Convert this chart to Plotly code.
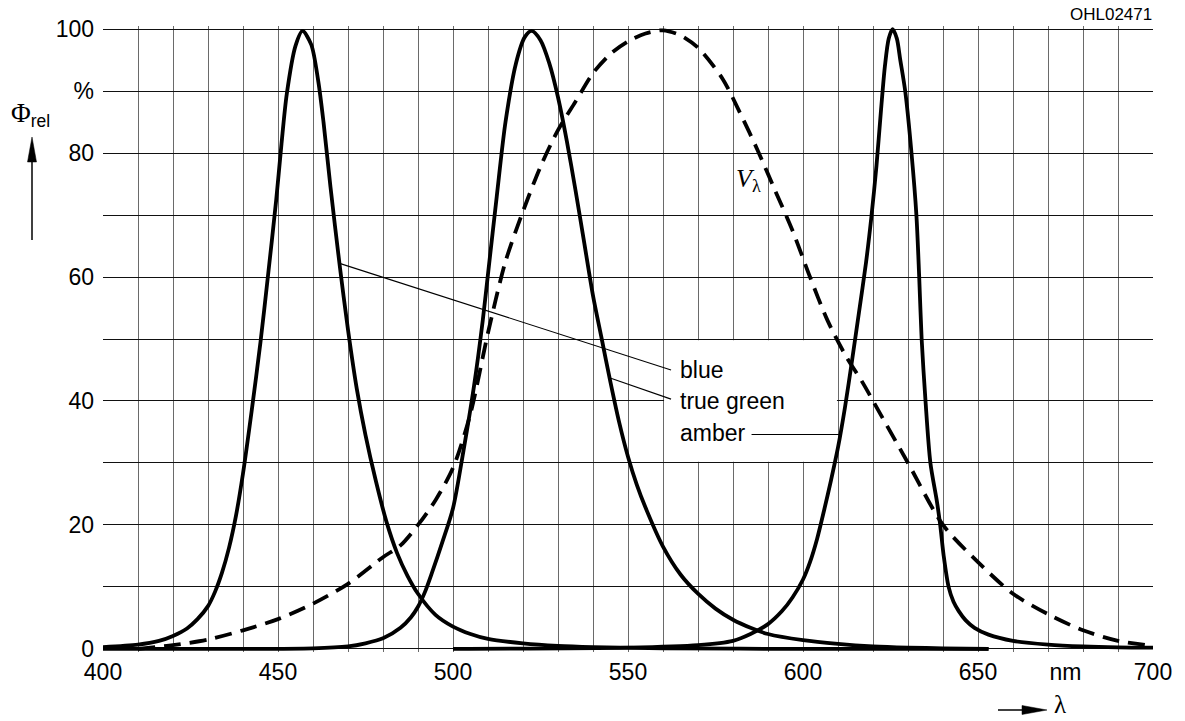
import plotly.graph_objects as go

# ---------------- data ----------------
blue_nm = [400, 410, 416, 420, 424, 427, 430, 432, 434, 436, 438, 440, 442.5, 445, 447, 449.5,
           451, 452.5, 455, 457, 459.5, 461.5, 463, 465, 467.6, 470, 472.5, 475, 478, 481, 484,
           487, 490, 495, 500, 505, 510, 520, 530, 540, 560, 600, 653]
blue_val = [0.3, 0.7, 1.3, 2.1, 3.3, 4.8, 6.9, 9.2, 12.3, 16.3, 21.5, 28.3, 38.5, 49.5, 59.5, 72.5,
            81.5, 89.5, 97.3, 99.7, 97.5, 91.6, 85, 74.5, 62, 51.5, 42, 34.5, 27, 20.5, 15.5,
            11.8, 8.9, 5.5, 3.6, 2.4, 1.6, 0.9, 0.5, 0.3, 0.1, 0, 0]

green_nm = [400, 460, 470, 475, 480, 485, 488, 490, 492, 494, 497, 500, 503, 506, 508.5, 510,
            512.5, 515, 518, 520.5, 522.5, 525, 527.5, 530, 532.5, 535, 537.5, 540, 542.5, 545,
            547.5, 550, 552.5, 555, 560, 565, 570, 575, 580, 585, 590, 600, 610, 620, 630, 640,
            653]
green_val = [0, 0.1, 0.4, 0.9, 1.7, 3.4, 5.1, 6.8, 9.2, 12.3, 17.3, 22.7, 32, 42.4, 53, 60.5,
             73, 85, 94.5, 98.7, 99.7, 98.2, 94.5, 89, 82, 74, 65.5, 57, 50, 43,
             36.5, 31, 26.5, 22.8, 16.5, 12, 8.9, 6.5, 4.7, 3.4, 2.4, 1.4, 0.8, 0.4, 0.2, 0.1,
             0]

amber_nm = [500, 550, 570, 580, 585, 590, 594, 597, 600, 602, 604, 606, 608, 610, 612, 614,
            616, 618, 619.5, 621, 622.3, 623.4, 624.5, 625.6, 626.8, 627.8, 629.2,
            631, 632.4, 633.2, 633.9, 635, 636.4, 638.2, 639.2, 640.2, 641.6, 643, 644.5, 646.5,
            649, 653, 660, 670, 680, 690, 700]
amber_val = [0, 0.2, 0.6, 1.3, 2.4, 4, 6.1, 8.3, 11.2, 14, 17.7, 22.3, 27.2, 32.5, 39, 46.5,
             54.3, 62.3, 69.5, 78, 87, 94, 98.5, 100, 98.5, 95, 90,
             80, 70, 60, 50, 40, 30, 24, 20, 15, 10, 7.6, 6.1, 4.6,
             3.4, 2.3, 1.3, 0.7, 0.4, 0.25, 0.2]

vlam_nm = [410, 420, 430, 440, 450, 460, 470, 480, 485, 490, 495, 500, 505, 510, 515, 520,
           525, 530, 535, 540, 545, 550, 555, 560, 565, 570, 577, 582, 587, 592, 597, 602,
           607, 612, 617, 622, 630, 640, 650, 660, 670, 680, 690, 700]
vlam_val = [0, 0.6, 1.5, 3, 4.8, 7.3, 10.5, 14.8, 16.7, 20, 24, 29.2, 38, 51, 62.5, 70.6,
            77.8, 83.7, 88.3, 92.9, 96, 98, 99.3, 99.8, 99, 97, 92, 86.5, 80.5, 74, 67.5, 60,
            53, 47.5, 43, 38, 30, 20, 14, 8.9, 5.6, 3, 1.3, 0.5]

grid_x = list(range(400, 701, 10))
grid_y = list(range(0, 101, 10))
x_tick_vals = [400, 450, 500, 550, 600, 650, 675, 700]
x_tick_text = ["400", "450", "500", "550", "600", "650", "nm", "700"]
y_tick_vals = [0, 20, 40, 60, 80, 90, 100]
y_tick_text = ["0", "20", "40", "60", "80", "%", "100"]

series_labels = ["blue", "true green", "amber"]
label_y = [45.0, 40.0, 34.8]
label_x = 564.3

# leader lines: (x0, y0, x1, y1) in data units
leaders = [(467.6, 62.2, 562.3, 45.0),
           (544.9, 43.7, 562.3, 40.3),
           (585.3, 34.6, 610.8, 34.6)]

FONT = "Liberation Sans, Arial, sans-serif"
SERIF = "Liberation Serif, Times New Roman, serif"

fig = go.Figure()
solid = dict(color="black", width=3.8, shape="spline", smoothing=0.8)
for nm, val, nme in [(blue_nm, blue_val, "blue"), (green_nm, green_val, "true green"),
                     (amber_nm, amber_val, "amber")]:
    fig.add_trace(go.Scatter(x=nm, y=val, mode="lines", line=solid, name=nme,
                             hoverinfo="skip"))
fig.add_trace(go.Scatter(x=vlam_nm, y=vlam_val, mode="lines", name="V_lambda",
                         line=dict(color="black", width=3.8, dash="17px,9px",
                                   shape="spline", smoothing=0.8), hoverinfo="skip"))

# plot area geometry (pixels)
L, R, T, B = 103, 32, 26, 69
W = 1185 - L - R
H = 721 - T - B
YMIN, YMAX = -0.5, 100.5
XMIN, XMAX = 400, 700

# invisible carrier trace for the labelled overlay axes
fig.add_trace(go.Scatter(x=[XMIN, XMAX], y=[YMIN, YMAX], xaxis="x2", yaxis="y2",
                         mode="markers", marker=dict(opacity=0, size=1),
                         hoverinfo="skip", showlegend=False))


def px(x):
    return (x - L) / W


def py(y):
    return (721 - B - y) / H


# white box behind labels (covers grid)
fig.add_shape(type="rect", x0=560.3, x1=609.7, y0=30.2, y1=49.8, xref="x", yref="y",
              fillcolor="white", line=dict(width=0), layer="between")
for x0, y0, x1, y1 in leaders:
    fig.add_shape(type="line", x0=x0, y0=y0, x1=x1, y1=y1, xref="x", yref="y",
                  line=dict(color="black", width=1.1), layer="above")
for t, yv in zip(series_labels, label_y):
    fig.add_annotation(x=label_x, y=yv, xref="x", yref="y", text=t, showarrow=False,
                       xanchor="left", yanchor="middle",
                       font=dict(family=FONT, size=23, color="black"))

# V lambda label
fig.add_annotation(x=584.3, y=75.6, xref="x", yref="y", showarrow=False,
                   text="<i>V</i><sub>λ</sub>",
                   font=dict(family=SERIF, size=26, color="black"))

# OHL code
fig.add_annotation(x=px(1111), y=py(15), xref="paper", yref="paper", text="OHL02471",
                   showarrow=False, xanchor="center", yanchor="middle",
                   font=dict(family=FONT, size=17, color="black"))

# Phi_rel label + arrow
fig.add_annotation(x=px(9), y=py(114), xref="paper", yref="paper",
                   text="<span style='font-family:Liberation Serif;font-size:27px'>Φ</span><sub>rel</sub>",
                   showarrow=False, xanchor="left", yanchor="middle",
                   font=dict(family=FONT, size=25, color="black"))
fig.add_shape(type="line", xref="paper", yref="paper", x0=px(32), x1=px(32),
              y0=py(240), y1=py(158), line=dict(color="black", width=1.5))
fig.add_shape(type="path", xref="paper", yref="paper",
              path=f"M {px(27.5)} {py(162)} L {px(32)} {py(137)} L {px(36.5)} {py(162)} Z",
              fillcolor="black", line=dict(color="black", width=0.5))

# lambda label + arrow
fig.add_shape(type="line", xref="paper", yref="paper", x0=px(998), x1=px(1026),
              y0=py(710), y1=py(710), line=dict(color="black", width=1.5))
fig.add_shape(type="path", xref="paper", yref="paper",
              path=f"M {px(1022)} {py(705.5)} L {px(1047)} {py(710)} L {px(1022)} {py(714.5)} Z",
              fillcolor="black", line=dict(color="black", width=0.5))
fig.add_annotation(x=px(1060), y=py(704), xref="paper", yref="paper", text="λ",
                   showarrow=False, xanchor="center", yanchor="middle",
                   font=dict(family=SERIF, size=25, color="black"))

tickfont = dict(family=FONT, size=23, color="black")
fig.update_layout(
    width=1185, height=721,
    margin=dict(l=L, r=R, t=T, b=B, pad=0),
    paper_bgcolor="white", plot_bgcolor="white",
    showlegend=False,
    font=dict(family=FONT, size=23, color="black"),
    xaxis=dict(range=[XMIN, XMAX], tickvals=grid_x, showticklabels=False, ticks="",
               showgrid=True, gridcolor="#6a6a6a", gridwidth=1.4, zeroline=False,
               showline=False),
    yaxis=dict(range=[YMIN, YMAX], tickvals=grid_y, showticklabels=False, ticks="",
               showgrid=True, gridcolor="#111111", gridwidth=1.1, zeroline=False,
               showline=False),
    xaxis2=dict(range=[XMIN, XMAX], overlaying="x", anchor="y2", side="bottom",
                tickvals=x_tick_vals, ticktext=x_tick_text, ticks="", showgrid=False,
                zeroline=False, showline=False, ticklabelstandoff=4, tickfont=tickfont),
    yaxis2=dict(range=[YMIN, YMAX], overlaying="y", anchor="x2", side="left",
                tickvals=y_tick_vals, ticktext=y_tick_text, ticks="", showgrid=False,
                zeroline=False, showline=False, ticklabelstandoff=8, tickfont=tickfont),
)

fig.write_html("out.html")
